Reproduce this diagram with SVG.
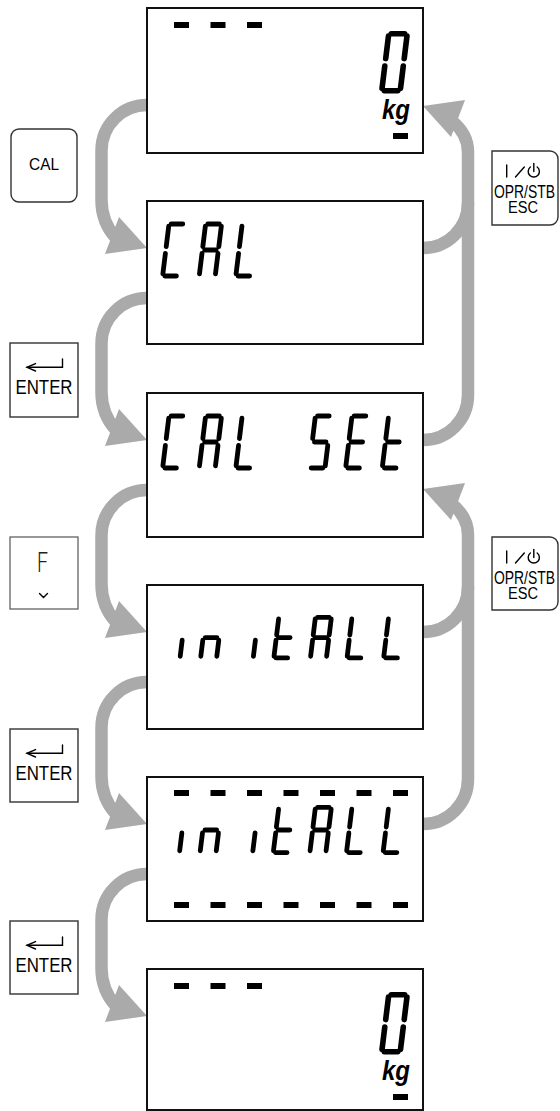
<svg xmlns="http://www.w3.org/2000/svg" xmlns:xlink="http://www.w3.org/1999/xlink" width="560" height="1111" viewBox="0 0 560 1111">
<style>
.box{fill:#fff;stroke:#111;stroke-width:2}
.key{fill:#fff;stroke:#333;stroke-width:1.4}
.keyf{fill:#fff;stroke:#555;stroke-width:1.2}
.sg{fill:none;stroke:#000;stroke-width:4.8;stroke-linecap:round;stroke-linejoin:round;vector-effect:non-scaling-stroke}
.sg0{fill:none;stroke:#000;stroke-width:5.6;stroke-linecap:round;stroke-linejoin:round;vector-effect:non-scaling-stroke}
.dash{fill:#000}
.kg{font-family:"Liberation Sans",Arial,sans-serif;font-weight:bold;font-style:italic;font-size:27px;fill:#000}
.kt{font-family:"Liberation Sans Narrow","Liberation Sans",Arial,sans-serif;fill:#000;text-anchor:middle}
.ft{font-family:Roboto,"Open Sans","Liberation Sans",sans-serif;font-weight:300;fill:#222}
.ic{fill:none;stroke:#000;stroke-width:1.4;stroke-linecap:round}
.con{fill:none;stroke:#aaaaaa;stroke-width:12.5}
.ah{fill:#aaaaaa}
</style>
<defs>
<path id="gC" class="sg" d="M2.2,0H13.8M0,2.2V23.5M0,30.5V51.8M2.2,54H13.8"/>
<path id="gA" class="sg" d="M2.2,0H13.8M16,2.2V23.5M16,30.5V51.8M0,30.5V51.8M0,2.2V23.5M2.2,27H13.8"/>
<path id="gL" class="sg" d="M0,2.2V23.5M0,30.5V51.8M2.2,54H13.8"/>
<path id="gS" class="sg" d="M2.2,0H13.8M0,2.2V23.5M2.2,27H13.8M16,30.5V51.8M2.2,54H13.8"/>
<path id="gE" class="sg" d="M2.2,0H13.8M0,2.2V23.5M2.2,27H13.8M0,30.5V51.8M2.2,54H13.8"/>
<path id="gt" class="sg" d="M0,2.2V23.5M0,30.5V51.8M2.2,27H13.8M2.2,54H13.8"/>
<path id="gi" class="sg" d="M16,30.5V51.8"/>
<path id="gn" class="sg" d="M0,30.5V51.8M2.2,27H13.8M16,30.5V51.8"/>
<path id="g0" class="sg0" d="M2.2,0H13.8M16,2.2V23.5M16,30.5V51.8M2.2,54H13.8M0,30.5V51.8M0,2.2V23.5"/>
<path id="ah" class="ah" d="M0,0L-28,-31L-42,6Z"/>
<g id="dash3"><rect class="dash" x="174" y="0" width="15" height="6"/><rect class="dash" x="210.5" y="0" width="15" height="6"/><rect class="dash" x="247" y="0" width="15" height="6"/></g>
<g id="dash7"><use href="#dash3"/><rect class="dash" x="283.5" y="0" width="15" height="6"/><rect class="dash" x="320" y="0" width="15" height="6"/><rect class="dash" x="356.5" y="0" width="15" height="6"/><rect class="dash" x="393" y="0" width="15" height="6"/></g>
<g id="enterSym"><polyline class="ic" points="62.5,16 62.5,24.3 27,24.3"/><polyline class="ic" points="35.5,20.6 27,24.3 35.5,28"/></g>
<g id="escSym"><line class="ic" x1="506.7" y1="14" x2="506.7" y2="26"/><line class="ic" x1="515.5" y1="26" x2="524.3" y2="16"/><path class="ic" d="M537.2,16A5.6,5.6 0 1 1 530.4,16"/><line class="ic" x1="533.8" y1="12.5" x2="533.8" y2="20.5"/></g>
</defs>

<g id="connectors">
<path class="con" d="M147,105A45.5,45.5 0 0 0 101.5,150.5V200Q101.5,222 115.5,237.5"/>
<use href="#ah" transform="translate(147,248)"/>
<path class="con" d="M147,298A45.5,45.5 0 0 0 101.5,343.5V392Q101.5,414 115.5,429.5"/>
<use href="#ah" transform="translate(147,440)"/>
<path class="con" d="M147,490A45.5,45.5 0 0 0 101.5,535.5V584Q101.5,606 115.5,621.5"/>
<use href="#ah" transform="translate(147,632)"/>
<path class="con" d="M147,682A45.5,45.5 0 0 0 101.5,727.5V776Q101.5,798 115.5,813.5"/>
<use href="#ah" transform="translate(147,824)"/>
<path class="con" d="M147,874A45.5,45.5 0 0 0 101.5,919.5V968Q101.5,990 115.5,1005.5"/>
<use href="#ah" transform="translate(147,1016)"/>
<path class="con" d="M423,248A45,45 0 0 0 468,203"/>
<path class="con" d="M423,440A45,45 0 0 0 468,395V152Q468,134 452,121"/>
<use href="#ah" transform="translate(423,106) rotate(180)"/>
<path class="con" d="M423,632A45,45 0 0 0 468,587"/>
<path class="con" d="M423,824A45,45 0 0 0 468,779V535Q468,517 452,504"/>
<use href="#ah" transform="translate(423,489) rotate(180)"/>
</g>

<g id="display1">
<rect class="box" x="147" y="8" width="276" height="145"/>
<use href="#dash3" y="22"/>
<use href="#g0" transform="translate(388.75,33.75) skewX(-7) scale(1.156,1.056)"/>
<text class="kg" x="382" y="119" textLength="28" lengthAdjust="spacingAndGlyphs">kg</text>
<rect class="dash" x="393" y="133" width="15" height="6"/>
</g>

<g id="display2">
<rect class="box" x="147" y="201" width="276" height="143"/>
<use href="#gC" transform="translate(169,224) skewX(-7) scale(1,0.963)"/>
<use href="#gA" transform="translate(205.6,224) skewX(-7) scale(1,0.963)"/>
<use href="#gL" transform="translate(242.2,224) skewX(-7) scale(1,0.963)"/>
</g>

<g id="display3">
<rect class="box" x="147" y="393" width="276" height="144"/>
<use href="#gC" transform="translate(169,416) skewX(-7) scale(1,0.963)"/>
<use href="#gA" transform="translate(205.6,416) skewX(-7) scale(1,0.963)"/>
<use href="#gL" transform="translate(242.2,416) skewX(-7) scale(1,0.963)"/>
<use href="#gS" transform="translate(315.4,416) skewX(-7) scale(1,0.963)"/>
<use href="#gE" transform="translate(352,416) skewX(-7) scale(1,0.963)"/>
<use href="#gt" transform="translate(388.6,416) skewX(-7) scale(1,0.963)"/>
</g>

<g id="display4">
<rect class="box" x="147" y="585" width="276" height="144"/>
<use href="#gi" transform="translate(169,617.3) skewX(-7) scale(1,0.752)"/>
<use href="#gn" transform="translate(205.6,617.3) skewX(-7) scale(1,0.752)"/>
<use href="#gi" transform="translate(242.2,617.3) skewX(-7) scale(1,0.752)"/>
<use href="#gt" transform="translate(278.8,617.3) skewX(-7) scale(1,0.752)"/>
<use href="#gA" transform="translate(315.4,617.3) skewX(-7) scale(1,0.752)"/>
<use href="#gL" transform="translate(352,617.3) skewX(-7) scale(1,0.752)"/>
<use href="#gL" transform="translate(388.6,617.3) skewX(-7) scale(1,0.752)"/>
</g>

<g id="display5">
<rect class="box" x="147" y="777" width="276" height="144"/>
<use href="#dash7" y="790"/>
<use href="#gi" transform="translate(169,807.4) skewX(-7) scale(1,0.837)"/>
<use href="#gn" transform="translate(205.6,807.4) skewX(-7) scale(1,0.837)"/>
<use href="#gi" transform="translate(242.2,807.4) skewX(-7) scale(1,0.837)"/>
<use href="#gt" transform="translate(278.8,807.4) skewX(-7) scale(1,0.837)"/>
<use href="#gA" transform="translate(315.4,807.4) skewX(-7) scale(1,0.837)"/>
<use href="#gL" transform="translate(352,807.4) skewX(-7) scale(1,0.837)"/>
<use href="#gL" transform="translate(388.6,807.4) skewX(-7) scale(1,0.837)"/>
<use href="#dash7" y="902"/>
</g>

<g id="display6">
<rect class="box" x="147" y="969" width="276" height="141"/>
<use href="#dash3" y="983"/>
<use href="#g0" transform="translate(388.75,994.75) skewX(-7) scale(1.156,1.056)"/>
<text class="kg" x="382" y="1080" textLength="28" lengthAdjust="spacingAndGlyphs">kg</text>
<rect class="dash" x="393" y="1094" width="15" height="6"/>
</g>

<g id="key-cal">
<rect class="key" x="11" y="129" width="66" height="73" rx="8"/>
<text class="kt" x="44" y="170" font-size="17" textLength="30" lengthAdjust="spacingAndGlyphs">CAL</text>
</g>

<g id="key-enter1">
<rect class="key" x="10" y="343" width="68" height="74"/>
<use href="#enterSym" y="343"/>
<text class="kt" x="44" y="394" font-size="20.5" textLength="57" lengthAdjust="spacingAndGlyphs">ENTER</text>
</g>

<g id="key-f">
<rect class="keyf" x="10" y="537" width="68" height="72"/>
<text class="ft" x="37" y="572" font-size="28" textLength="11" lengthAdjust="spacingAndGlyphs">F</text>
<polyline class="ic" points="39.5,593.5 43.5,597.5 47.5,593.5" stroke-width="1.1"/>
</g>

<g id="key-enter2">
<rect class="key" x="10" y="729" width="68" height="73"/>
<use href="#enterSym" y="729"/>
<text class="kt" x="44" y="780" font-size="20.5" textLength="57" lengthAdjust="spacingAndGlyphs">ENTER</text>
</g>

<g id="key-enter3">
<rect class="key" x="10" y="921" width="68" height="73"/>
<use href="#enterSym" y="921"/>
<text class="kt" x="44" y="972" font-size="20.5" textLength="57" lengthAdjust="spacingAndGlyphs">ENTER</text>
</g>

<g id="key-esc1">
<path class="key" d="M492,151H550A8,8 0 0 1 558,159V217A8,8 0 0 1 550,225H492Z"/>
<use href="#escSym" y="151"/>
<text class="kt" x="524.5" y="197.5" font-size="18" textLength="61" lengthAdjust="spacingAndGlyphs">OPR/STB</text>
<text class="kt" x="523" y="212.5" font-size="16" textLength="30" lengthAdjust="spacingAndGlyphs">ESC</text>
</g>

<g id="key-esc2">
<path class="key" d="M492,537H550A8,8 0 0 1 558,545V602A8,8 0 0 1 550,610H492Z"/>
<use href="#escSym" y="537"/>
<text class="kt" x="524.5" y="583.5" font-size="18" textLength="61" lengthAdjust="spacingAndGlyphs">OPR/STB</text>
<text class="kt" x="523" y="598.5" font-size="16" textLength="30" lengthAdjust="spacingAndGlyphs">ESC</text>
</g>
</svg>
